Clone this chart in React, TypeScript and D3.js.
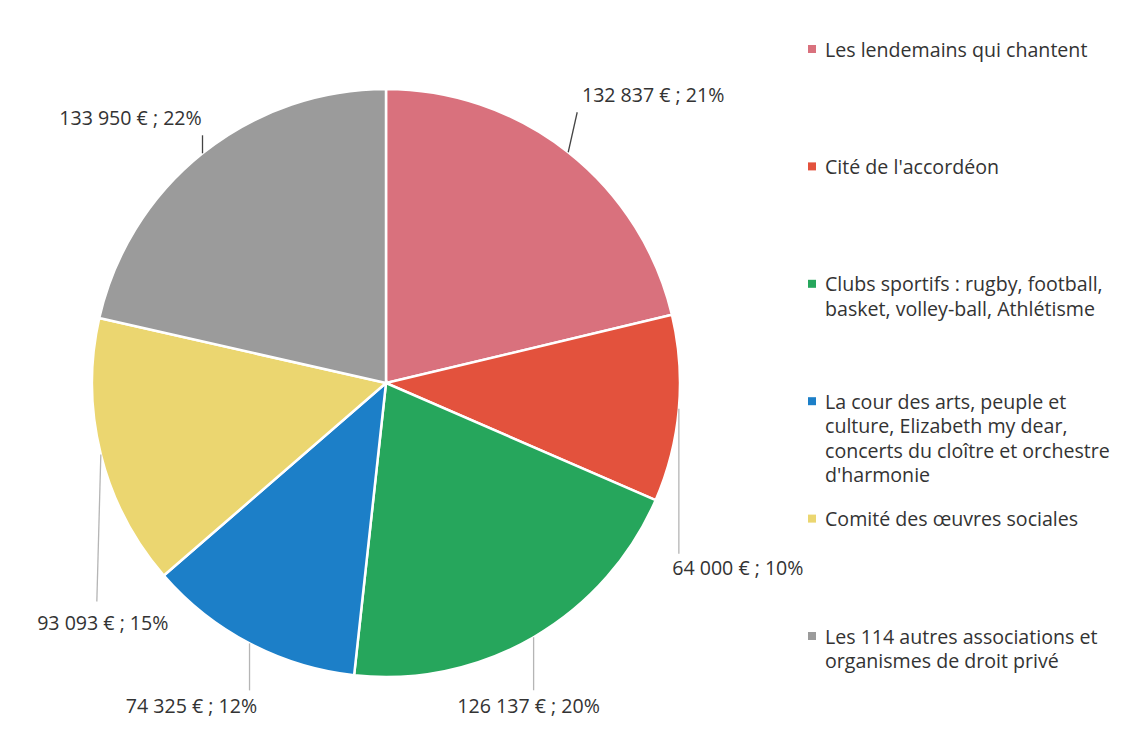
import * as d3 from 'd3';

// slices clockwise from 12 o'clock
const categories = [
    'Les lendemains qui chantent',
    "Cité de l'accordéon",
    'Clubs sportifs : rugby, football, basket, volley-ball, Athlétisme',
    "La cour des arts, peuple et culture, Elizabeth my dear, concerts du cloître et orchestre d'harmonie",
    'Comité des œuvres sociales',
    'Les 114 autres associations et organismes de droit privé',
];
const amounts = [132837, 64000, 126137, 74325, 93093, 133950];
const percentLabels = ['21%', '10%', '20%', '12%', '15%', '22%'];
// legend text, already broken into lines as in the original
const legendLines = [
    ['Les lendemains qui chantent'],
    ["Cité de l'accordéon"],
    ['Clubs sportifs : rugby, football,', 'basket, volley-ball, Athlétisme'],
    ['La cour des arts, peuple et', 'culture, Elizabeth my dear,', 'concerts du cloître et orchestre', "d'harmonie"],
    ['Comité des œuvres sociales'],
    ['Les 114 autres associations et', 'organismes de droit privé'],
];
const colors = ['#d9717d', '#e3523d', '#26a65c', '#1c7fc8', '#ebd670', '#9b9b9b'];

// label placement relative to the point on the rim (manual, like Excel's dragged labels)
const lineEnd = [[9, -40], [0, 145], [0, 53], [0, 47], [-4, 147], [0, -18]];
const textPos = [[85, -58], [59, 159], [-5, 68], [-58, 62], [2, 168], [-72, -36]];
const lineColor = ['#444', '#b5b5b5', '#b5b5b5', '#b5b5b5', '#b5b5b5', '#444'];

const W = 1123;
const H = 736;
const cx = 386;
const cy = 383;
const R = 294;
const FONT = '"Open Sans", "Noto Sans", sans-serif';
const FS = 19.6;

const fmt = (v: number) => d3.format(',')(v).replace(/,/g, ' ');

export default function App() {
    const pie = d3.pie<number>().sort(null).value((d) => d);
    const arcs = pie(amounts);
    const arc = d3.arc<d3.PieArcDatum<number>>().innerRadius(0).outerRadius(R);
    const legendY = d3.scalePoint<string>().domain(categories).range([49, 636]);

    return (
        <svg width={W} height={H} style={{ position: 'absolute', left: 0, top: 0, background: '#fff' }}>
            <g transform={`translate(${cx},${cy})`}>
                {arcs.map((a, i) => (
                    <path key={i} d={arc(a) || ''} fill={colors[i]} stroke="#fff" strokeWidth={2.5} />
                ))}
            </g>
            {arcs.map((a, i) => {
                const mid = (a.startAngle + a.endAngle) / 2;
                const px = cx + R * Math.sin(mid);
                const py = cy - R * Math.cos(mid);
                return (
                    <g key={i}>
                        <line
                            x1={px}
                            y1={py}
                            x2={px + lineEnd[i][0]}
                            y2={py + lineEnd[i][1]}
                            stroke={lineColor[i]}
                            strokeWidth={1.3}
                        />
                        <text
                            x={px + textPos[i][0]}
                            y={py + textPos[i][1]}
                            textAnchor="middle"
                            dominantBaseline="central"
                            fontFamily={FONT}
                            fontSize={FS}
                            fill="#333"
                        >
                            {`${fmt(amounts[i])} € ; ${percentLabels[i]}`}
                        </text>
                    </g>
                );
            })}
            {categories.map((c, i) => {
                const y0 = legendY(c) as number;
                return (
                    <g key={c}>
                        <rect x={808} y={y0 - 4} width={8} height={8} fill={colors[i]} />
                        {legendLines[i].map((ln, j) => (
                            <text
                                key={j}
                                x={825}
                                y={y0 + j * 24.5}
                                dominantBaseline="central"
                                fontFamily={FONT}
                                fontSize={FS}
                                fill="#333"
                            >
                                {ln}
                            </text>
                        ))}
                    </g>
                );
            })}
        </svg>
    );
}
